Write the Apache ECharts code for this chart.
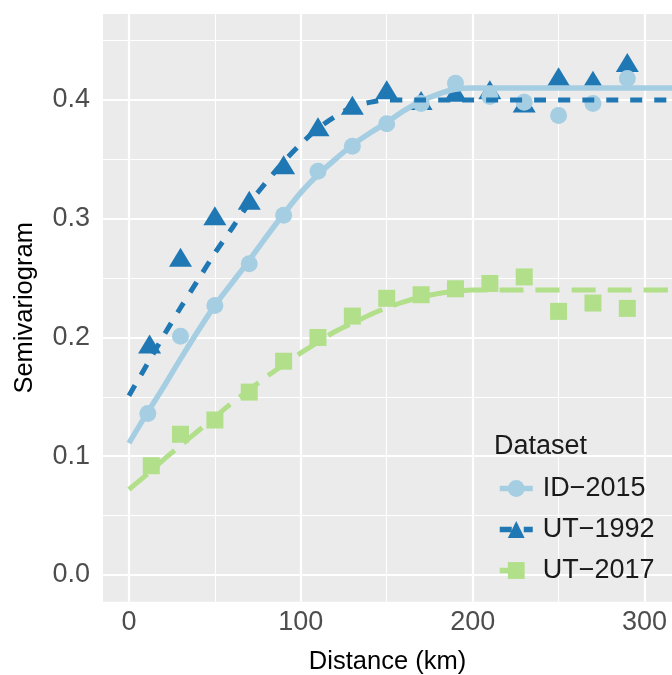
<!DOCTYPE html>
<html>
<head>
<meta charset="utf-8">
<script src="https://cdn.jsdelivr.net/npm/echarts@6/dist/echarts.min.js"></script>
<style>
html,body{margin:0;padding:0;background:#fff;}
#chart{width:672px;height:675px;}
</style>
</head>
<body>
<div id="chart"></div>
<script>
// ---- data ----
const datasetNames = ['ID\u22122015', 'UT\u22121992', 'UT\u22122017'];

const idLags   = [11, 30, 50, 70, 90, 110, 130, 150, 170, 190, 210, 230, 250, 270, 290];
const idVals   = [0.136, 0.201, 0.227, 0.262, 0.303, 0.340, 0.361, 0.380, 0.397, 0.414, 0.403, 0.398, 0.387, 0.397, 0.418];

const ut92Lags = [12, 30, 50, 70, 90, 110, 130, 150, 170, 190, 210, 230, 250, 270, 290];
const ut92Vals = [0.192, 0.265, 0.300, 0.313, 0.343, 0.375, 0.393, 0.406, 0.397, 0.404, 0.406, 0.395, 0.417, 0.414, 0.429];

const ut17Lags = [13, 30, 50, 70, 90, 110, 130, 150, 170, 190, 210, 230, 250, 270, 290];
const ut17Vals = [0.092, 0.1185, 0.1305, 0.154, 0.180, 0.200, 0.218, 0.233, 0.236, 0.241, 0.2455, 0.251, 0.222, 0.229, 0.2245];

// fitted model curves
const fitDist  = [0, 10, 20, 30, 40, 50, 60, 70, 80, 90, 100, 110, 120, 130, 140, 150, 160, 170, 180, 190, 200, 320];
const idFit    = [0.111, 0.135, 0.158, 0.182, 0.205, 0.227, 0.246, 0.265, 0.285, 0.304, 0.322, 0.337, 0.350, 0.362, 0.372, 0.381, 0.391, 0.399, 0.405, 0.409, 0.410, 0.410];
const ut92Fit  = [0.151, 0.176, 0.201, 0.225, 0.248, 0.271, 0.292, 0.313, 0.331, 0.348, 0.363, 0.376, 0.386, 0.394, 0.398, 0.400, 0.400, 0.400, 0.400, 0.400, 0.400, 0.400];
const ut17Fit  = [0.072, 0.084, 0.097, 0.109, 0.121, 0.133, 0.145, 0.156, 0.167, 0.177, 0.187, 0.196, 0.205, 0.212, 0.219, 0.225, 0.230, 0.234, 0.237, 0.239, 0.240, 0.240];

const xTicks = [0, 100, 200, 300];
const xMinor = [50, 150, 250];
const yTicks = [0, 0.1, 0.2, 0.3, 0.4];
const yMinor = [0.05, 0.15, 0.25, 0.35, 0.45];

// ---- styling ----
const colors = ['#a6cee3', '#1f78b4', '#b2df8a'];
const FONT = 'Liberation Sans, Arial, Helvetica, sans-serif';

function pairs(xs, ys) { return xs.map((x, i) => [x, ys[i]]); }

const gridLines = [];
xTicks.forEach(v => gridLines.push({ xAxis: v, lineStyle: { width: 2.2 } }));
xMinor.forEach(v => gridLines.push({ xAxis: v, lineStyle: { width: 1.1 } }));
yTicks.forEach(v => gridLines.push({ yAxis: v, lineStyle: { width: 2.2 } }));
yMinor.forEach(v => gridLines.push({ yAxis: v, lineStyle: { width: 1.1 } }));

const chart = echarts.init(document.getElementById('chart'), null, { renderer: 'canvas' });

const option = {
  animation: false,
  backgroundColor: '#ffffff',
  textStyle: { fontFamily: FONT },
  grid: {
    left: 103, top: 14, width: 569, height: 587.7,
    containLabel: false, outerBoundsMode: 'none',
    show: true, backgroundColor: '#ebebeb', borderWidth: 0, z: 0
  },
  title: {
    text: 'Dataset', left: 494, top: 433, padding: 0, z: 10,
    textStyle: { fontFamily: FONT, fontSize: 27, fontWeight: 'normal', color: '#1a1a1a' }
  },
  legend: {
    orient: 'vertical', left: 497, top: 475, padding: 0, z: 10,
    width: 175, height: 150,
    itemWidth: 33, itemHeight: 21, itemGap: 14,
    data: datasetNames,
    lineStyle: { width: 5.5 },
    formatter: name => '{g|}' + name,
    textStyle: {
      fontFamily: FONT, fontSize: 27, color: '#1a1a1a',
      rich: { g: { width: 5, fontSize: 27 } }
    },
    selectedMode: false
  },
  xAxis: {
    type: 'value', min: -15.1, max: 316,
    name: 'Distance (km)', nameLocation: 'middle', nameGap: 47,
    nameTextStyle: { fontFamily: FONT, fontSize: 25.5, color: '#000' },
    axisLine: { show: false },
    axisTick: { show: true, length: 5, lineStyle: { color: '#333', width: 1.5 }, customValues: xTicks },
    axisLabel: { show: true, margin: 7, fontFamily: FONT, fontSize: 27, color: '#4d4d4d', customValues: xTicks,
                 formatter: v => String(v) },
    splitLine: { show: false }
  },
  yAxis: {
    type: 'value', min: -0.0225, max: 0.4724,
    name: 'Semivariogram', nameLocation: 'middle', nameGap: 65, nameRotate: 90,
    nameTextStyle: { fontFamily: FONT, fontSize: 25.5, color: '#000' },
    axisLine: { show: false },
    axisTick: { show: true, length: 5, lineStyle: { color: '#333', width: 1.5 }, customValues: yTicks },
    axisLabel: { show: true, margin: 13, fontFamily: FONT, fontSize: 27, color: '#4d4d4d', customValues: yTicks,
                 formatter: v => v.toFixed(1) },
    splitLine: { show: false }
  },
  series: [
    {
      type: 'scatter', name: '__grid', data: [], z: 1, silent: true,
      markLine: {
        z: 1, silent: true, symbol: ['none', 'none'], label: { show: false },
        lineStyle: { color: '#ffffff', type: 'solid' },
        emphasis: { disabled: true },
        data: gridLines
      }
    },
    {
      type: 'line', name: datasetNames[0], data: pairs(fitDist, idFit), z: 5,
      showSymbol: false, symbol: 'circle', smooth: 0.3, clip: true,
      itemStyle: { color: colors[0] },
      lineStyle: { color: colors[0], width: 5.5, type: 'solid', cap: 'butt' }
    },
    {
      type: 'line', name: datasetNames[1], data: pairs(fitDist, ut92Fit), z: 5,
      showSymbol: false, symbol: 'triangle', smooth: 0.3, clip: true,
      itemStyle: { color: colors[1] },
      lineStyle: { color: colors[1], width: 5, type: [12, 12], cap: 'butt' }
    },
    {
      type: 'line', name: datasetNames[2], data: pairs(fitDist, ut17Fit), z: 5,
      showSymbol: false, symbol: 'rect', smooth: 0.3, clip: true,
      itemStyle: { color: colors[2] },
      lineStyle: { color: colors[2], width: 5, type: [24, 12], cap: 'butt' }
    },
    {
      type: 'scatter', name: datasetNames[1], data: pairs(ut92Lags, ut92Vals), z: 3,
      symbol: 'triangle', symbolSize: [23, 19], symbolOffset: [0, -3],
      itemStyle: { color: colors[1], opacity: 1 }
    },
    {
      type: 'scatter', name: datasetNames[0], data: pairs(idLags, idVals), z: 4,
      symbol: 'circle', symbolSize: 17,
      itemStyle: { color: colors[0], opacity: 1 }
    },
    {
      type: 'scatter', name: datasetNames[2], data: pairs(ut17Lags, ut17Vals), z: 4,
      symbol: 'rect', symbolSize: 17,
      itemStyle: { color: colors[2], opacity: 1 }
    }
  ]
};

chart.setOption(option);
</script>
</body>
</html>
